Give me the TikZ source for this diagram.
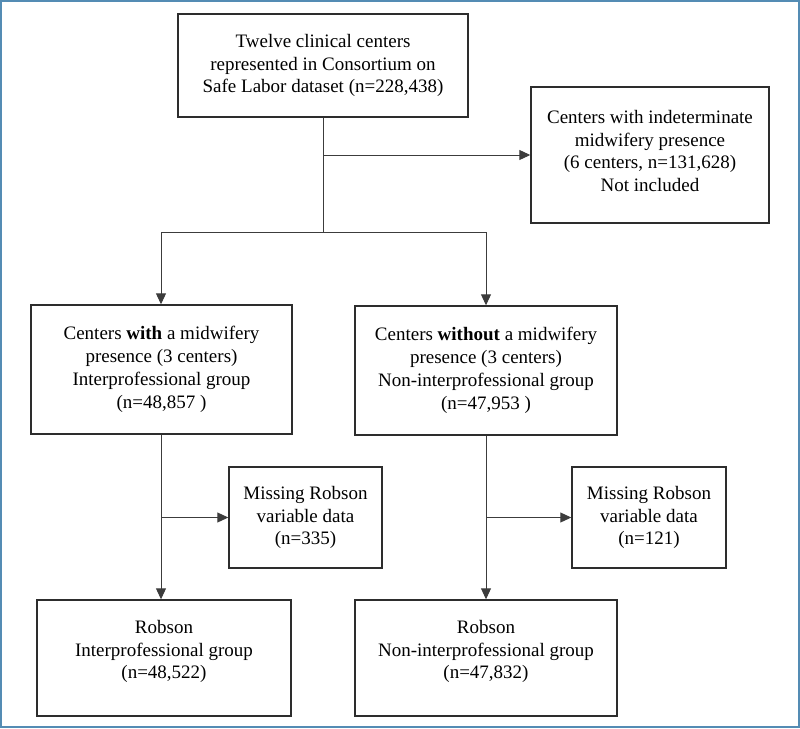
\documentclass[tikz,border=0pt]{standalone}
\usepackage{fontspec}
\setmainfont{Liberation Serif}
\usetikzlibrary{arrows.meta}
\definecolor{framecol}{RGB}{84,140,180}
\definecolor{boxcol}{RGB}{45,45,45}
\definecolor{linecol}{RGB}{60,60,60}
\begin{document}
\begin{tikzpicture}[x=1pt,y=-1pt,
  box/.style={draw=boxcol,line width=1.4pt,align=center,inner sep=0pt,
    font=\fontsize{19}{22.8}\selectfont},
  txt/.style={align=center,inner sep=0pt,font=\fontsize{19}{22.8}\selectfont},
  conn/.style={draw=linecol,line width=1pt},
  arr/.style={conn,-{Triangle[length=11pt,width=10pt]}}]
\useasboundingbox (0,0) rectangle (800,728);
\draw[framecol,line width=2pt] (1,1) rectangle (799,727);

\node[box,minimum width=290,minimum height=103] (top) at (323,65.5)
  {Twelve clinical centers\\represented in Consortium on\\Safe Labor dataset (n=228,438)};
\node[box,minimum width=238,minimum height=136] (excl) at (650,155) {};
\node[txt] (exclt) at (650,151)
  {Centers with indeterminate\\midwifery presence\\(6 centers, n=131,628)\\Not included};
\node[box,minimum width=261,minimum height=129] (midL) at (161.5,369.5)
  {Centers \textbf{with} a midwifery\\presence (3 centers)\\Interprofessional group\\(n=48,857 )};
\node[box,minimum width=262,minimum height=129] (midR) at (486,370.5)
  {Centers \textbf{without} a midwifery\\presence (3 centers)\\Non-interprofessional group\\(n=47,953 )};
\node[box,minimum width=153,minimum height=101] (missL) at (305.5,517.5)
  {Missing Robson\\variable data\\(n=335)};
\node[box,minimum width=154,minimum height=101] (missR) at (649,517.5)
  {Missing Robson\\variable data\\(n=121)};
\node[box,minimum width=254,minimum height=116] (botL) at (164,658) {};
\node[txt] (botLt) at (164,651.5)
  {Robson\\Interprofessional group\\(n=48,522)};
\node[box,minimum width=262,minimum height=116] (botR) at (486,658) {};
\node[txt] (botRt) at (486,651.5)
  {Robson\\Non-interprofessional group\\(n=47,832)};

% top split
\coordinate (split) at (323,232);
\coordinate (sideT) at (323,155);
\coordinate (brL) at (161,232);
\coordinate (brR) at (486,232);
\draw[conn] (top.south) -- (split);
\draw[arr] (sideT) -- (sideT -| excl.west);
\draw[conn] (brL) -- (brR);
\draw[arr] (brL) -- (brL |- midL.north);
\draw[arr] (brR) -- (brR |- midR.north);

% left branch
\coordinate (lx) at (161,0);
\draw[arr] (lx |- midL.south) -- (lx |- botL.north);
\draw[arr] (lx |- missL.west) -- (missL.west);

% right branch
\coordinate (rx) at (486,0);
\draw[arr] (rx |- midR.south) -- (rx |- botR.north);
\draw[arr] (rx |- missR.west) -- (missR.west);
\end{tikzpicture}
\end{document}
